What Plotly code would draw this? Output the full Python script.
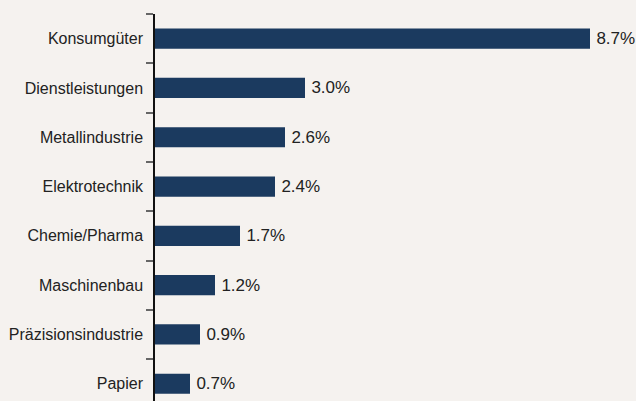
import plotly.graph_objects as go

categories = ["Konsumgüter", "Dienstleistungen", "Metallindustrie", "Elektrotechnik",
              "Chemie/Pharma", "Maschinenbau", "Präzisionsindustrie", "Papier"]
values = [8.7, 3.0, 2.6, 2.4, 1.7, 1.2, 0.9, 0.7]

BG = "#f5f2ef"
FONT = "Liberation Sans, Arial, sans-serif"

fig = go.Figure(go.Bar(
    x=values, y=categories, orientation="h",
    marker=dict(color="#1b3a5f", line=dict(width=0)),
    width=0.41,
    texttemplate="\u2009%{x:.1f}%", textposition="outside",
    textfont=dict(family=FONT, size=17, color="#222222"),
    constraintext="none",
    cliponaxis=False,
    hoverinfo="skip",
))

fig.update_layout(
    width=636, height=401,
    margin=dict(l=155, r=0, t=14, b=0),
    paper_bgcolor=BG, plot_bgcolor=BG,
    font=dict(family=FONT, size=16, color="#222222"),
    showlegend=False,
    xaxis=dict(range=[0, 9.62], visible=False, fixedrange=True),
    yaxis=dict(
        type="category", categoryorder="array", categoryarray=categories,
        range=[7.35, -0.5],
        showline=True, linecolor="#111111", linewidth=1.5,
        ticks="outside", tickson="boundaries", ticklen=7, tickcolor="#666666", tickwidth=1.5,
        showgrid=False, zeroline=False,
        tickfont=dict(family=FONT, size=16, color="#222222"),
        ticklabelstandoff=7,
        fixedrange=True,
    ),
)

fig.write_html(
    "out.html",
    config={"displayModeBar": False},
    post_script="document.body.style.margin='0';document.body.style.background='%s';" % BG,
)
